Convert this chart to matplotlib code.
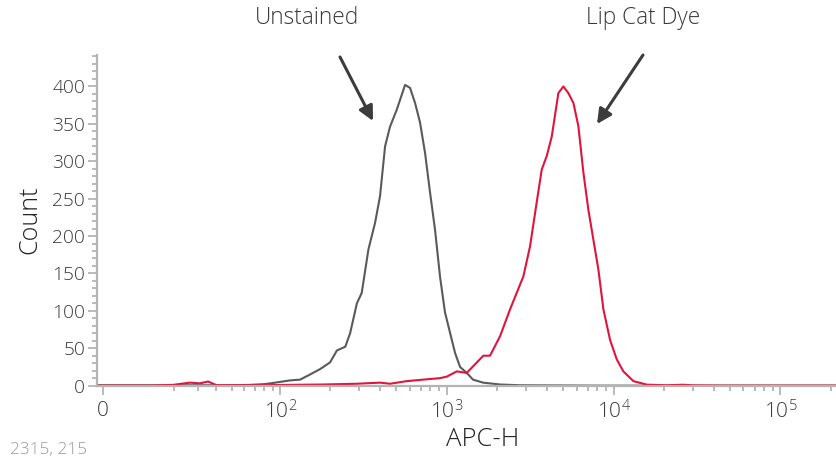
import numpy as np
import matplotlib
matplotlib.use("Agg")
from matplotlib import pyplot as plt

plt.rcParams['font.family'] = ['Open Sans', 'DejaVu Sans']
plt.rcParams['font.weight'] = 'light'
plt.rcParams['mathtext.fontset'] = 'custom'
plt.rcParams['mathtext.rm'] = 'Open Sans:light'

# APC-H values and counts
unstained_x = [-1.4, 0, 31, 50, 65, 80, 87, 100, 115, 132, 152, 174, 200, 220, 247, 264, 290,
               310, 340, 373, 399, 428, 458, 503, 564, 604, 647, 693, 743, 796, 852, 913,
               978, 1048, 1123, 1204, 1320, 1440, 1653, 2090, 2750, 8300, 220000]
unstained_y = [0.5, 0.5, 0.5, 0.5, 1, 2, 3, 5, 7, 8, 15, 22, 31, 47, 52, 70, 110,
               124, 182, 218, 253, 320, 346, 369, 402, 398, 378, 352, 311, 258, 209, 146,
               98, 71, 44, 25, 17, 8, 4, 1.5, 0.5, 0, 0]

dye_x = [-1.4, 0, 12, 19.7, 26.4, 31, 35.2, 40.1, 72, 182, 290, 399, 458, 577, 722, 913,
         1002, 1151, 1320, 1660, 1820, 2090, 2400, 2883, 3160, 3465, 3716, 3980, 4265,
         4672, 5005, 5364, 5747, 6156, 6597, 7067, 7573, 8116, 8694, 9534, 10458, 11455,
         13153, 15813, 20825, 26080, 30000, 43420, 220000]
dye_y = [0, 0, 0, 1, 4, 3, 5.5, 0.5, 0.5, 1.5, 2.5, 4, 2.5, 6, 8, 10,
         12, 19, 17, 40, 40, 66, 102, 146, 186, 245, 289, 307, 333,
         391, 400, 391, 378, 347, 285, 235, 195, 155, 102, 61, 35, 19,
         6, 1.3, 0.4, 1.2, 0.3, 0, 0]

major_x = [0, 1e2, 1e3, 1e4, 1e5]
major_x_labels = ['0', r'$\mathregular{10^2}$', r'$\mathregular{10^3}$',
                  r'$\mathregular{10^4}$', r'$\mathregular{10^5}$']
minor_x = [m * 10 ** e for e in range(1, 5) for m in range(2, 10)] + [2e5]

W, H = 837, 458
fig = plt.figure(figsize=(W / 100, H / 100), dpi=100)
ax = fig.add_axes([97 / W, 1 - 386 / H, 1 - 97 / W, (386 - 55) / H])

ax.plot(unstained_x, unstained_y, color='#5a5a5a', lw=1.5)
ax.plot(dye_x, dye_y, color='#e0143c', lw=1.5)

ax.set_xscale('asinh', linear_width=17.5)
ax.set_xlim(-1.45, 2.18e5)
ax.set_ylim(-0.5, 442)

ax.set_xticks(major_x)
ax.set_xticklabels(major_x_labels)
ax.set_xticks(minor_x, minor=True)
ax.set_xticklabels([], minor=True)
ax.set_yticks(np.arange(0, 401, 50))
ax.set_yticks(np.arange(0, 441, 10), minor=True)

for s in ['top', 'right']:
    ax.spines[s].set_visible(False)
for s in ['left', 'bottom']:
    ax.spines[s].set_color('#b4b4b4')
    ax.spines[s].set_linewidth(1.6)

ax.tick_params(which='major', length=6.5, width=1.3, color='#b4b4b4', labelcolor='#3a3a3a')
ax.tick_params(which='minor', length=3.5, width=1.3, color='#b4b4b4')
ax.tick_params(axis='y', labelsize=13.8, pad=2)
ax.tick_params(axis='x', labelsize=15, pad=4)

fig.text(30 / W, 1 - 220 / H, 'Count', rotation=90, ha='center', va='center',
         fontsize=18, color='#222222')
fig.text(483 / W, 1 - 440 / H, 'APC-H', ha='center', va='center', fontsize=18.5, color='#222222')
fig.text(10 / W, 1 - 450 / H, '2315, 215', ha='left', va='center', fontsize=12.3, color='#9a9a9a')

fig.text(307 / W, 1 - 18 / H, 'Unstained', ha='center', va='center', fontsize=16.3, color='#3a3a3a')
fig.text(643 / W, 1 - 18 / H, 'Lip Cat Dye', ha='center', va='center', fontsize=16.3, color='#3a3a3a')

arrow = dict(arrowstyle='-|>', color='#3c3c3c', lw=2.2, mutation_scale=22, shrinkA=0, shrinkB=0)
ax.annotate('', xy=(373 / W, 1 - 121 / H), xytext=(340 / W, 1 - 57 / H),
            xycoords='figure fraction', textcoords='figure fraction', arrowprops=arrow)
ax.annotate('', xy=(597 / W, 1 - 124 / H), xytext=(643 / W, 1 - 55 / H),
            xycoords='figure fraction', textcoords='figure fraction', arrowprops=arrow)

fig.savefig('out.png', dpi=100)
